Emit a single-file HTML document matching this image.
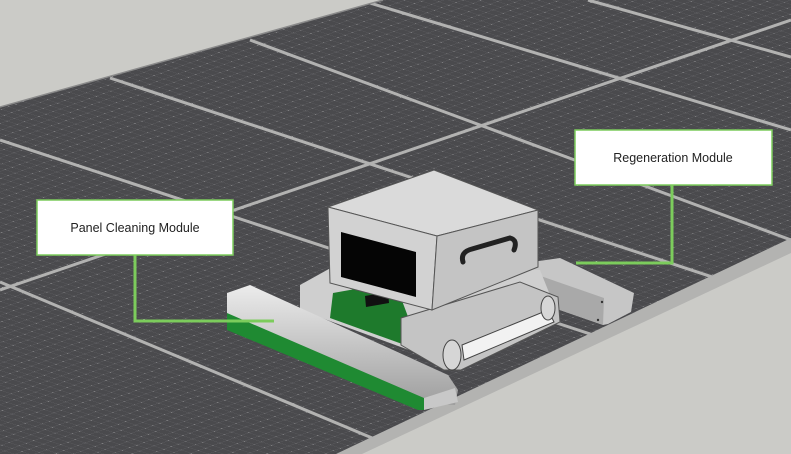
<!DOCTYPE html>
<html><head><meta charset="utf-8"><style>
html,body{margin:0;padding:0;background:#cbcbc7;}
svg{display:block}
.lbl{font-family:"Liberation Sans",sans-serif;font-size:12.5px;fill:#222}
</style></head><body>
<svg width="791" height="454" viewBox="0 0 791 454" xmlns="http://www.w3.org/2000/svg">
<defs>
<clipPath id="pan"><polygon points="0,107 383,0 791,0 791,240 340,454 0,454"/></clipPath>
<pattern id="cells" width="10" height="8" patternUnits="userSpaceOnUse" patternTransform="matrix(1,0.33,-0.9,0.32,0,0)">
<rect width="10" height="8" fill="#4a4a4d"/>
<path d="M0 0H10M0 0V8" stroke="#66666a" stroke-width="0.8"/>
<circle cx="0" cy="0" r="0.9" fill="#c8c8c8"/>
</pattern>
<linearGradient id="rol" x1="0" y1="0" x2="0" y2="1"><stop offset="0" stop-color="#ececec"/><stop offset="1" stop-color="#9e9e9e"/></linearGradient>
</defs>
<rect width="791" height="454" fill="#cbcbc7"/>
<polygon points="0,107 383,0 791,0 791,240 340,454 0,454" fill="url(#cells)"/>
<!-- curb -->
<polygon points="336,454 791,238 791,253 362,454" fill="#b3b3b1"/>
<g clip-path="url(#pan)" stroke="#b2b2b1" stroke-width="3" fill="none">
<line x1="0" y1="290" x2="791" y2="20"/>
<line x1="0" y1="140" x2="791" y2="400"/>
<line x1="110" y1="78" x2="791" y2="303"/>
<line x1="250" y1="40" x2="791" y2="240"/>
<line x1="360" y1="0" x2="791" y2="130"/>
<line x1="588" y1="0" x2="791" y2="57"/>
<line x1="0" y1="282" x2="420" y2="458"/>
</g>
<line x1="0" y1="107" x2="383" y2="0" stroke="#8a8a8a" stroke-width="1.5"/>
<!-- regeneration module -->
<polygon points="532,262 560,258 634,293 631,312 608,324 603,325 531,300" fill="#c6c6c6"/>
<polygon points="532,273 604,298 603,325 531,300" fill="#a9a9a9"/>
<circle cx="602" cy="302" r="1.2" fill="#333"/><circle cx="598" cy="320" r="1.2" fill="#333"/>
<!-- chassis -->
<polygon points="300,285 345,260 540,270 560,320 450,365 300,310" fill="#cfcfcf"/>
<polygon points="333,293 395,282 410,322 405,345 330,318" fill="#1e7a2c"/>
<polygon points="365,296 388,292 389,303 366,307" fill="#111"/>
<!-- tracks -->
<polygon points="401,318 520,282 558,297 560,322 461,370 444,370 401,345" fill="#c4c4c4" stroke="#555" stroke-width="1"/>
<polygon points="462,345 548,310 554,322 464,360" fill="#f2f2f2" stroke="#444" stroke-width="1"/>
<ellipse cx="452" cy="355" rx="9" ry="15" fill="#d6d6d6" stroke="#444"/>
<ellipse cx="548" cy="308" rx="7" ry="12" fill="#d6d6d6" stroke="#444"/>
<!-- box -->
<polygon points="328,207 434,170 538,210 437,236" fill="#dadada" stroke="#555" stroke-width="1"/>
<polygon points="328,207 437,236 432,310 330,283" fill="#d2d2d2" stroke="#555" stroke-width="1"/>
<polygon points="437,236 538,210 538,267 432,310" fill="#c4c4c4" stroke="#555" stroke-width="1"/>
<polygon points="341,232 416,252 416,297 341,277" fill="#050505"/>
<path d="M463 262 Q460 252 472 249 L510 238 Q518 240 514 250" stroke="#222" stroke-width="5" fill="none" stroke-linecap="round"/>
<!-- roller -->
<polygon points="227,293 250,285 448,375 458,390 455,405 424,403 227,318" fill="url(#rol)"/>
<polygon points="227,313 424,398 424,410 418,410 227,330" fill="#1f8a32"/>
<polygon points="424,398 455,388 458,402 424,410" fill="#c8c8c8"/>
<!-- labels -->
<g stroke="#7ccc5c" stroke-width="3" fill="none">
<polyline points="135,255 135,321 274,321"/>
<polyline points="672,185 672,263 576,263"/>
</g>
<rect x="37" y="200" width="196" height="55" fill="#fff" stroke="#7ccc5c" stroke-width="1.5"/>
<text class="lbl" x="135" y="232" text-anchor="middle">Panel Cleaning Module</text>
<rect x="575" y="130" width="197" height="55" fill="#fff" stroke="#7ccc5c" stroke-width="1.5"/>
<text class="lbl" x="673" y="162" text-anchor="middle">Regeneration Module</text>
</svg>
</body></html>
